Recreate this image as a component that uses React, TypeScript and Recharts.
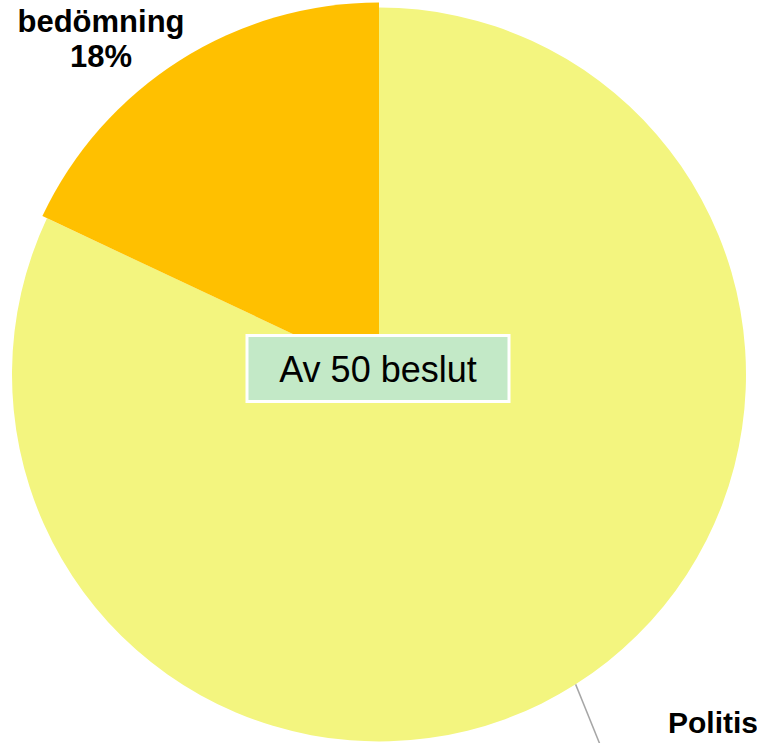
import { Cell, Pie, PieChart, Sector } from 'recharts'

const categories = ['Politiskt', 'bedömning']
const counts = [41, 9]
const percentLabels = ['82%', '18%']
const sliceColors = ['#F3F57F', '#FFC000']
const centerText = 'Av 50 beslut'

const data = categories.map((name, i) => ({ name, value: counts[i], pct: percentLabels[i] }))

const FONT = 'Arial, "Liberation Sans", sans-serif'

function renderLabel(props: any) {
  const { cx, cy, midAngle, outerRadius, index } = props
  const item = data[index]
  if (index === 1) {
    const x = cx - 278
    const y = cy - 343
    return (
      <text x={x} y={y} textAnchor="middle" fontFamily={FONT} fontWeight="bold" fontSize={31} fill="#000">
        <tspan x={x} dy={0}>{item.name}</tspan>
        <tspan x={x} dy={35}>{item.pct}</tspan>
      </text>
    )
  }
  const rad = (-midAngle * Math.PI) / 180
  const sx = cx + outerRadius * Math.cos(rad)
  const sy = cy + outerRadius * Math.sin(rad)
  return (
    <g>
      <line x1={sx} y1={sy} x2={cx + 221} y2={cy + 370} stroke="#A6A6A6" strokeWidth={1.5} />
      <text x={cx + 289} y={cy + 358} textAnchor="start" fontFamily={FONT} fontWeight="bold" fontSize={30} fill="#000">
        <tspan x={cx + 289} dy={0}>{item.name}</tspan>
        <tspan x={cx + 289} dy={35}>{item.pct}</tspan>
      </text>
      {/* centre caption box */}
      <rect x={cx - 132} y={cy - 39} width={262} height={66} fill="#C3E9C7" stroke="#FFFFFF" strokeWidth={3} />
      <text x={cx - 1} y={cy + 7} textAnchor="middle" fontFamily={FONT} fontSize={36} fill="#000">
        {centerText}
      </text>
    </g>
  )
}

function renderShape(props: any) {
  const { index, outerRadius } = props
  return <Sector {...props} outerRadius={index === 1 ? outerRadius + 5 : outerRadius} stroke="none" />
}

export default function App() {
  return (
    <div style={{ position: 'fixed', left: 0, top: 0, width: 757, height: 743, overflow: 'hidden', background: '#fff' }}>
      <PieChart width={757} height={743} margin={{ top: 0, right: 0, bottom: 0, left: 0 }}>
        <Pie
          data={data}
          dataKey="value"
          nameKey="name"
          cx={379}
          cy={374.5}
          outerRadius={367}
          startAngle={90}
          endAngle={-270}
          stroke="none"
          label={renderLabel}
          labelLine={false}
          shape={renderShape}
          isAnimationActive={false}
        >
          {data.map((d, i) => (
            <Cell key={d.name} fill={sliceColors[i]} />
          ))}
        </Pie>
      </PieChart>
    </div>
  )
}
